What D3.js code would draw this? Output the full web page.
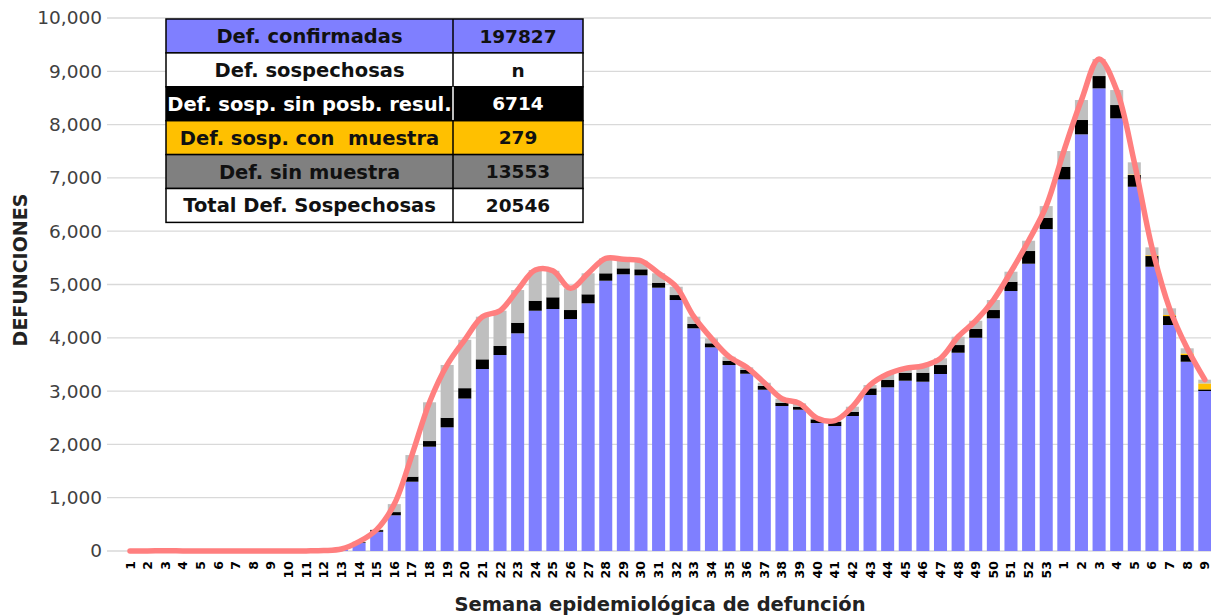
<!DOCTYPE html>
<html>
<head>
<meta charset="utf-8">
<script src="https://cdn.jsdelivr.net/npm/d3@7"></script>
<style>
  body { margin: 0; background: #fff; }
  svg text { font-family: "DejaVu Sans", sans-serif; white-space: pre; }
</style>
</head>
<body>
<svg id="chart" width="1211" height="615"></svg>
<script>
// semanas epidemiologicas 2020 (1-53) y 2021 (1-9)
const weeks = d3.range(1, 54).concat(d3.range(1, 10)).map(String);

const confirmadas = [0, 1, 6, 2, 0, 0, 0, 0, 0, 1, 2, 8, 30, 150, 360, 670, 1300, 1957, 2320, 2860,
  3414, 3677, 4084, 4508, 4540, 4352, 4647, 5071, 5191, 5172, 4940, 4709, 4178, 3821, 3489, 3326,
  3026, 2720, 2651, 2401, 2345, 2533, 2927, 3071, 3195, 3176, 3321, 3720, 4001, 4365, 4878, 5390,
  6040, 6973, 7817, 8680, 8117, 6834, 5334, 4240, 3551, 3002];
const sinPosbResul = [0, 0, 0, 0, 0, 0, 0, 0, 0, 0, 0, 0, 3, 15, 32, 60, 95, 106, 180, 195,
  182, 169, 199, 188, 220, 169, 169, 139, 112, 113, 94, 93, 81, 76, 81, 70,
  70, 62, 56, 69, 81, 80, 125, 137, 150, 169, 168, 144, 164, 156, 174, 238,
  212, 237, 269, 231, 250, 220, 200, 168, 126, 30];
const conMuestra = [0, 0, 0, 0, 0, 0, 0, 0, 0, 0, 0, 0, 0, 0, 0, 0, 0, 0, 0, 0,
  0, 0, 0, 0, 0, 0, 0, 0, 0, 0, 0, 0, 0, 0, 0, 0,
  0, 0, 0, 0, 0, 0, 0, 0, 0, 0, 0, 0, 0, 0, 0, 0,
  0, 0, 0, 0, 0, 10, 15, 20, 30, 112];
const sinMuestra = [0, 0, 0, 0, 0, 0, 0, 0, 0, 0, 0, 0, 5, 10, 10, 150, 405, 727, 990, 908,
  800, 662, 613, 576, 498, 407, 394, 281, 170, 161, 176, 156, 137, 93, 75, 50,
  61, 75, 63, 20, 19, 94, 62, 113, 82, 126, 126, 156, 155, 188, 188, 193,
  219, 294, 375, 320, 281, 228, 148, 125, 96, 70];

const yTicks = d3.range(0, 10001, 1000);

const tablaEtiquetas = ["Def. confirmadas", "Def. sospechosas", "Def. sosp. sin posb. resul.",
  "Def. sosp. con  muestra", "Def. sin muestra", "Total Def. Sospechosas"];
const tablaValores = ["197827", "n", "6714", "279", "13553", "20546"];

const keys = ["confirmadas", "sinPosbResul", "conMuestra", "sinMuestra"];
const colores = { confirmadas: "#7f7fff", sinPosbResul: "#000000", conMuestra: "#ffc000", sinMuestra: "#bfbfbf" };

const data = weeks.map((w, i) => ({
  i: i, week: w,
  confirmadas: confirmadas[i], sinPosbResul: sinPosbResul[i],
  conMuestra: conMuestra[i], sinMuestra: sinMuestra[i]
}));
data.forEach(d => { d.total = d.confirmadas + d.sinPosbResul + d.conMuestra + d.sinMuestra; });

const svg = d3.select("#chart");

const x = d3.scaleBand()
  .domain(d3.range(data.length))
  .range([121.2, 1213.6])
  .paddingInner(0.26)
  .paddingOuter(0.13);

const y = d3.scaleLinear().domain([0, 10000]).range([551, 18]);

// grid
svg.append("g")
  .selectAll("line")
  .data(yTicks)
  .enter().append("line")
  .attr("x1", 107).attr("x2", 1211)
  .attr("y1", d => y(d)).attr("y2", d => y(d))
  .attr("stroke", "#d9d9d9")
  .attr("stroke-width", 1.3);

// y labels
svg.append("g")
  .selectAll("text")
  .data(yTicks)
  .enter().append("text")
  .attr("x", 102)
  .attr("y", d => y(d))
  .attr("dy", "0.35em")
  .attr("text-anchor", "end")
  .style("font-size", "18.5px")
  .style("fill", "#404040")
  .text(d => d3.format(",")(d));

// stacked bars
const stack = d3.stack().keys(keys);
const series = stack(data);

svg.append("g")
  .selectAll("g")
  .data(series)
  .enter().append("g")
  .attr("fill", d => colores[d.key])
  .selectAll("rect")
  .data(d => d)
  .enter().append("rect")
  .attr("x", d => x(d.data.i))
  .attr("width", x.bandwidth())
  .attr("y", d => y(d[1]))
  .attr("height", d => Math.max(0, y(d[0]) - y(d[1])));

// total line
const line = d3.line()
  .x(d => x(d.i) + x.bandwidth() / 2)
  .y(d => y(d.total))
  .curve(d3.curveCatmullRom.alpha(0.5));

svg.append("path")
  .datum(data)
  .attr("d", line)
  .attr("fill", "none")
  .attr("stroke", "#ff7f7f")
  .attr("stroke-width", 5.5)
  .attr("stroke-linejoin", "round")
  .attr("stroke-linecap", "round");

// x labels
svg.append("g")
  .selectAll("text")
  .data(data)
  .enter().append("text")
  .attr("transform", d => "translate(" + (x(d.i) + x.bandwidth() / 2) + ",561) rotate(-90)")
  .attr("dy", "0.36em")
  .attr("text-anchor", "end")
  .style("font-size", "12.5px")
  .style("font-weight", "bold")
  .style("fill", "#000")
  .text(d => d.week);

// axis titles
svg.append("text")
  .attr("x", 660).attr("y", 611)
  .attr("text-anchor", "middle")
  .style("font-size", "19.5px")
  .style("font-weight", "bold")
  .style("fill", "#222")
  .text("Semana epidemiológica de defunción");

svg.append("text")
  .attr("transform", "translate(27,270) rotate(-90)")
  .attr("text-anchor", "middle")
  .style("font-size", "19px")
  .style("font-weight", "bold")
  .style("fill", "#222")
  .text("DEFUNCIONES");

// summary table
const tabla = { x0: 166, x1: 453, x2: 583, y0: 19, rowH: 33.9 };
const filaFondo = ["#7f7fff", "#ffffff", "#000000", "#ffc000", "#808080", "#ffffff"];
const filaTexto = ["#111", "#111", "#ffffff", "#111", "#111", "#111"];

const filas = svg.append("g")
  .selectAll("g")
  .data(tablaEtiquetas)
  .enter().append("g")
  .attr("transform", (d, i) => "translate(0," + (tabla.y0 + i * tabla.rowH) + ")");

filas.append("rect")
  .attr("x", tabla.x0).attr("width", tabla.x2 - tabla.x0)
  .attr("height", tabla.rowH)
  .attr("fill", (d, i) => filaFondo[i])
  .attr("stroke", "#000").attr("stroke-width", 1.5);

filas.append("line")
  .attr("x1", tabla.x1).attr("x2", tabla.x1)
  .attr("y1", 0).attr("y2", tabla.rowH)
  .attr("stroke", (d, i) => i == 2 ? "#fff" : "#000").attr("stroke-width", 1.5);

filas.append("text")
  .attr("x", (tabla.x0 + tabla.x1) / 2)
  .attr("y", tabla.rowH / 2)
  .attr("dy", "0.36em")
  .attr("text-anchor", "middle")
  .style("font-size", "19.5px")
  .style("font-weight", "bold")
  .style("fill", (d, i) => filaTexto[i])
  .text(d => d);

filas.append("text")
  .attr("x", (tabla.x1 + tabla.x2) / 2)
  .attr("y", tabla.rowH / 2)
  .attr("dy", "0.36em")
  .attr("text-anchor", "middle")
  .style("font-size", "18.5px")
  .style("font-weight", "bold")
  .style("fill", (d, i) => filaTexto[i])
  .text((d, i) => tablaValores[i]);
</script>
</body>
</html>
